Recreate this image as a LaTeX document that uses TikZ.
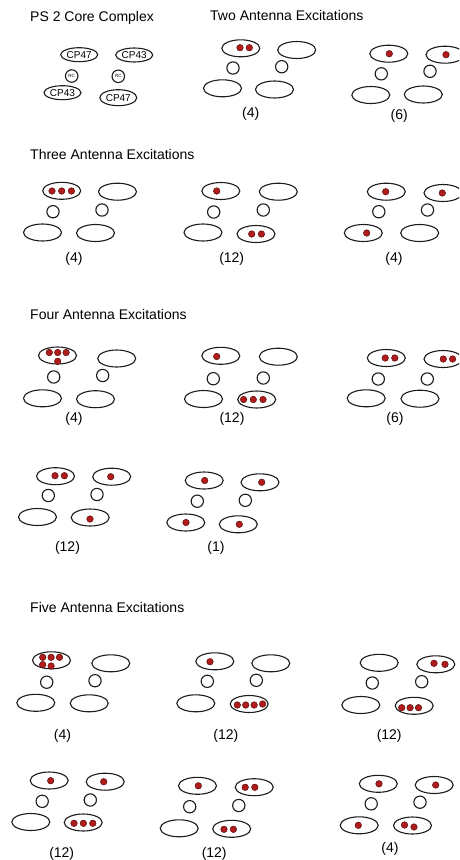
\documentclass[tikz,border=0pt]{standalone}
\usepackage{fontspec}
\setmainfont{Liberation Sans}
\usetikzlibrary{shapes.geometric}
\definecolor{inkline}{HTML}{1C1C1C}
\definecolor{dotred}{HTML}{B01C1C}
\definecolor{dotrim}{HTML}{4A0606}
\tikzset{
  antenna/.style={ellipse, draw=inkline, line width=1.1pt, minimum width=38pt, minimum height=17pt, inner sep=0pt},
  corebox/.style={ellipse, draw=inkline, line width=1.1pt, minimum width=37pt, minimum height=14pt, inner sep=0pt, font=\fontsize{10}{11}\selectfont},
  rcenter/.style={circle, draw=inkline, line width=1.1pt, minimum size=12.3pt, inner sep=0pt},
  exc/.style={circle, fill=dotred, draw=dotrim, line width=0.4pt, minimum size=6.6pt, inner sep=0pt},
  heading/.style={anchor=base west, inner sep=0pt, font=\fontsize{14}{16}\selectfont},
  count/.style={inner sep=0pt, font=\fontsize{14}{16}\selectfont},
}
% one PS II core: two antenna pairs, two reaction centres, and the count below
% #1 name, #2..#7 positions (top-left, top-right, RC left, RC right, bottom-left, bottom-right), #8 count position, #9 count
\newcommand\pscluster[9]{%
  \node[antenna] (#1-tl) at (#2) {};
  \node[antenna] (#1-tr) at (#3) {};
  \node[rcenter] (#1-rl) at (#4) {};
  \node[rcenter] (#1-rr) at (#5) {};
  \node[antenna] (#1-bl) at (#6) {};
  \node[antenna] (#1-br) at (#7) {};
  \node[count]   (#1-n)  at (#8) {#9};
}
\begin{document}
\begin{tikzpicture}[x=1pt, y=-1pt]
\useasboundingbox (0,0) rectangle (459,860);
\clip (0,0) rectangle (459,860);
\fill[white] (0,0) rectangle (459,860);

% ---------- core complex ----------
\node[heading] (hcore) at (30,21.7) {PS 2 Core Complex};
\node[corebox] (cp47a) at (79.2,54.7) {CP47};
\node[corebox] (cp43a) at (134.2,55) {CP43};
\node[rcenter, minimum size=12.5pt, font=\fontsize{4.5}{5}\selectfont] (rca) at (71.7,76) {RC};
\node[rcenter, minimum size=12.5pt, font=\fontsize{4.5}{5}\selectfont] (rcb) at (118.3,76.3) {RC};
\node[corebox] (cp43b) at (62.5,92.7) {CP43};
\node[corebox, minimum height=16pt] (cp47b) at (118.3,97.7) {CP47};

% ---------- two excitations ----------
\node[heading] (htwo) at (210,20) {Two Antenna Excitations};
\pscluster{t4}{240.8,48.3}{296.7,50}{233,68}{281.7,66.7}{222.5,88.3}{274.5,89.5}{250.7,113.5}{(4)}
\node[exc] (t4-d1) at (240,47.7) {};
\node[exc] (t4-d2) at (249.3,47.7) {};
\pscluster{t6}{388.8,53.7}{445,54.7}{381.3,73.8}{430,71.3}{370.8,95}{423.3,94.5}{399.3,115.8}{(6)}
\node[exc] (t6-d1) at (389.3,53.7) {};
\node[exc] (t6-d2) at (446,54.7) {};

% ---------- three excitations ----------
\node[heading] (hthree) at (30,159.3) {Three Antenna Excitations};
\pscluster{h4}{61.7,190.8}{117.5,191.7}{53,211.7}{102,210}{42.5,232.5}{95.5,233}{74,259}{(4)}
\node[exc] (h4-d1) at (52,191) {};
\node[exc] (h4-d2) at (61.7,191) {};
\node[exc] (h4-d3) at (71.4,191) {};
\pscluster{h12}{220.8,191}{278.3,191.7}{213.7,212}{263.3,210}{203,232.5}{256,234}{231.7,259}{(12)}
\node[exc] (h12-d1) at (216.7,191) {};
\node[exc] (h12-d2) at (251.7,234) {};
\node[exc] (h12-d3) at (261.4,234) {};
\pscluster{h4b}{386.3,191.7}{443,193}{378.8,211.7}{427.5,210}{363.3,233}{419.7,233}{394,259}{(4)}
\node[exc] (h4b-d1) at (385.7,191.7) {};
\node[exc] (h4b-d2) at (442.3,193) {};
\node[exc] (h4b-d3) at (366.7,233) {};

% ---------- four excitations ----------
\node[heading] (hfour) at (30,319.3) {Four Antenna Excitations};
\pscluster{f4}{57.5,355.5}{116.7,358.5}{53.7,377}{102.7,375.5}{42.5,398.3}{95.5,399.2}{74,419}{(4)}
\node[exc] (f4-d1) at (49.3,352.5) {};
\node[exc] (f4-d2) at (57.7,352.5) {};
\node[exc] (f4-d3) at (66.1,352.5) {};
\node[exc] (f4-d4) at (57.7,361.3) {};
\pscluster{f12}{220.8,355.8}{278.3,356.7}{213.3,378.7}{263.3,378}{203.5,399}{256.7,399.5}{232,419}{(12)}
\node[exc] (f12-d1) at (216.7,356.5) {};
\node[exc] (f12-d2) at (243.6,399.5) {};
\node[exc] (f12-d3) at (253.3,399.5) {};
\node[exc] (f12-d4) at (263,399.5) {};
\pscluster{f6}{386.3,358}{443,359}{378.3,379}{427.3,379}{366.2,398.3}{420,398.7}{395,419}{(6)}
\node[exc] (f6-d1) at (385.2,358) {};
\node[exc] (f6-d2) at (394.8,358) {};
\node[exc] (f6-d3) at (443.3,359) {};
\node[exc] (f6-d4) at (452.6,359) {};
\pscluster{f12b}{55.5,476.2}{111.7,476.7}{48.3,495.5}{97,494.5}{37.5,517}{90.2,517.5}{67.5,547.5}{(12)}
\node[exc] (f12b-d1) at (55,475.7) {};
\node[exc] (f12b-d2) at (64.4,475.7) {};
\node[exc] (f12b-d3) at (110.7,476.7) {};
\node[exc] (f12b-d4) at (90,519) {};
\pscluster{f1}{204.2,480.5}{260,482.3}{197.3,501.2}{245.3,500.3}{185.8,522.5}{238.3,524.3}{216,547.5}{(1)}
\node[exc] (f1-d1) at (204.7,480.5) {};
\node[exc] (f1-d2) at (261.7,482.3) {};
\node[exc] (f1-d3) at (186,522.5) {};
\node[exc] (f1-d4) at (239.3,524.3) {};

% ---------- five excitations ----------
\node[heading] (hfive) at (30,612.7) {Five Antenna Excitations};
\pscluster{v4}{51.5,660.3}{110.8,663.3}{46.7,682.2}{95,680.7}{35.8,702.8}{89.2,703.3}{62.5,736}{(4)}
\node[exc] (v4-d1) at (42.7,657.3) {};
\node[exc] (v4-d2) at (51.1,657.3) {};
\node[exc] (v4-d3) at (59.5,657.3) {};
\node[exc] (v4-d4) at (42.7,664.6) {};
\node[exc] (v4-d5) at (51.1,666) {};
\pscluster{v12}{214.8,661.3}{270.8,663.3}{207.3,681.3}{256.3,680.3}{195.8,703.3}{249.2,704}{225.8,736}{(12)}
\node[exc] (v12-d1) at (210,661.7) {};
\node[exc] (v12-d2) at (237.3,705) {};
\node[exc] (v12-d3) at (245.7,705) {};
\node[exc] (v12-d4) at (254.1,705) {};
\node[exc] (v12-d5) at (262.6,704) {};
\pscluster{v12b}{379.2,662.8}{435.8,664.3}{372.3,683}{421.7,681.7}{360.8,705}{414.2,705.8}{389.2,736}{(12)}
\node[exc] (v12b-d1) at (434,663.3) {};
\node[exc] (v12b-d2) at (445,664.3) {};
\node[exc] (v12b-d3) at (401.7,707.7) {};
\node[exc] (v12b-d4) at (410.1,707.7) {};
\node[exc] (v12b-d5) at (418.5,707.7) {};
\pscluster{v12c}{49.2,780.5}{105.2,781.7}{42.2,801.3}{90.3,800}{30.8,822}{83.2,822.5}{61.7,853.7}{(12)}
\node[exc] (v12c-d1) at (50.7,780.7) {};
\node[exc] (v12c-d2) at (103.7,781.7) {};
\node[exc] (v12c-d3) at (74,823.3) {};
\node[exc] (v12c-d4) at (83.4,823.3) {};
\node[exc] (v12c-d5) at (92.8,823.3) {};
\pscluster{v12d}{197.5,785.8}{254.2,787.2}{189.7,806.7}{238.8,805.5}{179.2,828.3}{231.7,828.8}{214.2,853.7}{(12)}
\node[exc] (v12d-d1) at (198.3,785.8) {};
\node[exc] (v12d-d2) at (245.2,787.3) {};
\node[exc] (v12d-d3) at (254.8,787.3) {};
\node[exc] (v12d-d4) at (224,829.3) {};
\node[exc] (v12d-d5) at (233.4,829.3) {};
\pscluster{v4b}{378.3,783.8}{434.2,785}{371.2,803.8}{420,802.2}{359.2,825.3}{412.5,825.5}{390,849.2}{(4)}
\node[exc] (v4b-d1) at (379,783.8) {};
\node[exc] (v4b-d2) at (435.7,785) {};
\node[exc] (v4b-d3) at (358.3,825.3) {};
\node[exc] (v4b-d4) at (404.5,825) {};
\node[exc] (v4b-d5) at (414,827) {};
\end{tikzpicture}
\end{document}
